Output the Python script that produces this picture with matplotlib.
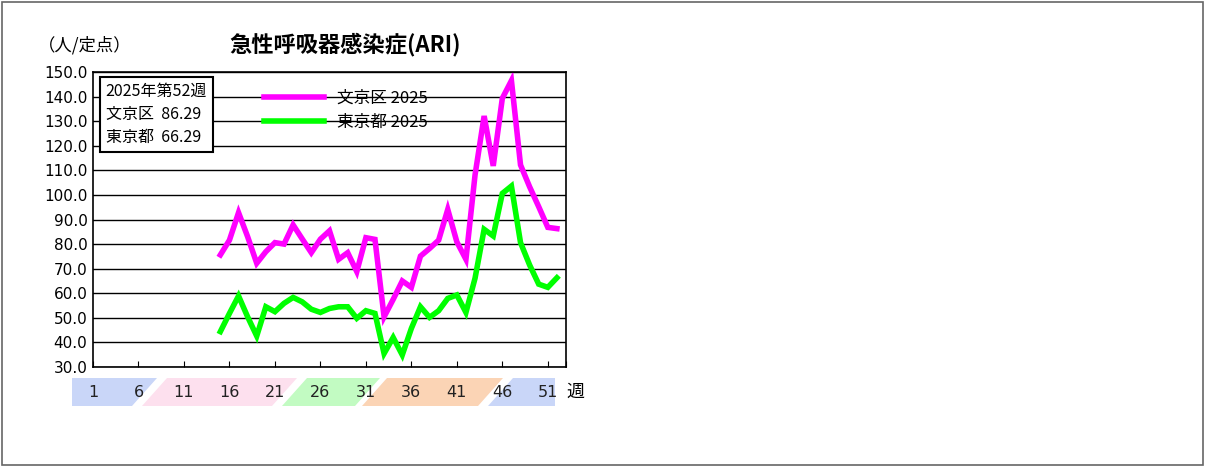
import matplotlib
matplotlib.use("Agg")
import matplotlib.pyplot as plt
from matplotlib.patches import Polygon, Rectangle

plt.rcParams['font.family'] = ['Noto Sans CJK JP', 'DejaVu Sans']

weeks = list(range(15, 53))
bunkyo = [75.6, 81.6, 92.8, 83.0, 72.2, 76.9, 80.6, 80.0, 87.8, 82.1, 76.5, 82.0, 85.4,
          73.8, 76.5, 68.8, 82.6, 81.9, 50.4, 57.5, 65.0, 62.4, 75.1, 78.2, 81.6, 94.1,
          80.9, 73.8, 108.1, 132.1, 111.8, 139.3, 146.5, 112.2, 103.3, 95.2, 86.8, 86.29]
tokyo = [44.4, 51.8, 58.9, 50.4, 42.6, 54.5, 52.5, 55.9, 58.3, 56.5, 53.5, 52.2, 53.8,
         54.5, 54.5, 49.8, 52.9, 51.8, 35.5, 42.0, 34.9, 45.7, 54.5, 50.2, 52.9, 57.9,
         59.3, 52.2, 66.1, 86.0, 83.3, 100.6, 103.6, 80.6, 71.5, 63.7, 62.4, 66.29]
xtick_weeks = [1, 6, 11, 16, 21, 26, 31, 36, 41, 46, 51]
yticks = [30, 40, 50, 60, 70, 80, 90, 100, 110, 120, 130, 140, 150]

W, H = 1205, 467
fig = plt.figure(figsize=(W/100, H/100), dpi=100)
fig.patches.append(Rectangle((2/W, 2/H), 1-4/W, 1-4/H, transform=fig.transFigure,
                             fill=False, edgecolor='#666666', lw=1.2))
ax = fig.add_axes([93/W, 1-367/H, (566-93)/W, (367-72)/H])
ax.set_zorder(5)
ax.set_xlim(1, 53)
ax.set_ylim(30, 150)
ax.set_yticks(yticks)
ax.set_yticklabels([f"{v:.1f}" for v in yticks], fontsize=11, family='DejaVu Sans')
ax.set_xticks(list(range(1, 53, 5)) + [53])
ax.set_xticklabels([])
ax.tick_params(axis='x', length=4, direction='in')
ax.tick_params(axis='y', length=0, pad=4)
ax.grid(axis='y', color='black', lw=1)
for s in ax.spines.values():
    s.set_linewidth(1.2)
l1, = ax.plot(weeks, bunkyo, color='#ff00ff', lw=4, solid_joinstyle='miter')
l2, = ax.plot(weeks, tokyo, color='#00ff00', lw=4, solid_joinstyle='miter')
ax.legend([l1, l2], ['文京区 2025', '東京都 2025'], loc='upper left',
          bbox_to_anchor=(0.33, 0.99), frameon=False, fontsize=12,
          handlelength=3.6, labelspacing=0.4)

def px(x, y):
    return (x / W, 1 - y / H)
bands = [([(72, 406), (72, 378), (157, 378), (132, 406)], '#c9d6f8'),
         ([(142, 406), (167, 378), (297, 378), (272, 406)], '#fde0ee'),
         ([(282, 406), (307, 378), (380, 378), (355, 406)], '#c2fbc2'),
         ([(362, 406), (387, 378), (503, 378), (478, 406)], '#fbd4b5'),
         ([(488, 406), (513, 378), (555, 378), (555, 406)], '#c9d6f8')]
for pts, c in bands:
    fig.patches.append(Polygon([px(*p) for p in pts], closed=True, transform=fig.transFigure,
                               facecolor=c, edgecolor='none', zorder=0))
for w in xtick_weeks:
    ax.text(w, -0.085, str(w), transform=ax.get_xaxis_transform(), ha='center', va='center',
            fontsize=11.5, family='DejaVu Sans', color='#222222', clip_on=False)
ax.text(53.1, -0.085, '週', transform=ax.get_xaxis_transform(), ha='left', va='center',
        fontsize=13, clip_on=False)

fig.text(38/W, 1-45/H, '（人/定点）', fontsize=12.5, va='center', ha='left')
fig.text(345/W, 1-44/H, '急性呼吸器感染症(ARI)', fontsize=16, fontweight='bold', va='center', ha='center')
ax.text(0.027, 0.965, '2025年第52週\n文京区  86.29\n東京都  66.29', transform=ax.transAxes,
        va='top', ha='left', fontsize=11.5, linespacing=1.5,
        bbox=dict(boxstyle='square,pad=0.35', facecolor='white', edgecolor='black', lw=1.5))
fig.savefig('out.png', dpi=100)
